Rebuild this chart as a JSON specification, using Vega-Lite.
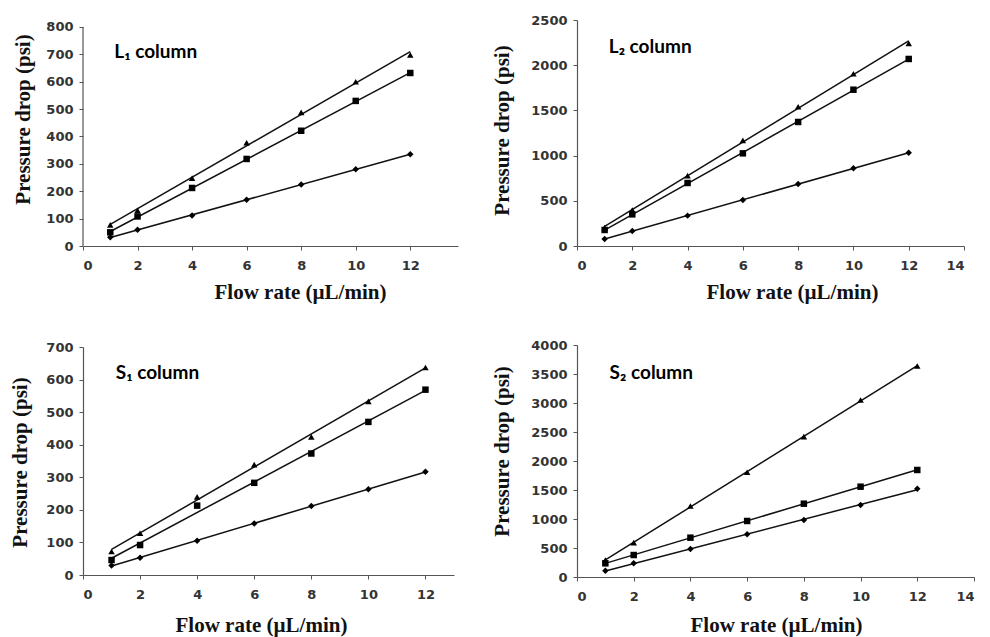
{
  "$schema": "https://vega.github.io/schema/vega-lite/v6.json",
  "background": "white",
  "padding": {"left": 8, "top": 14, "right": 5, "bottom": 5},
  "config": {
    "view": {"stroke": null},
    "axis": {
      "grid": false,
      "domainColor": "#555",
      "tickColor": "#555",
      "domainWidth": 1.2,
      "tickSize": 4,
      "labelOverlap": false,
      "labelFont": "DejaVu Sans",
      "labelFontWeight": "bold",
      "labelFontSize": 13,
      "labelColor": "#333",
      "titleFont": "Liberation Serif",
      "titleFontSize": 21,
      "titleFontWeight": "bold",
      "titleColor": "#111",
      "format": "d",
      "tickCount": 20
    },
    "axisX": {"labelPadding": 9},
    "axisY": {"labelPadding": 6}
  },
  "datasets": {
    "pts": [
      {"panel": "L1", "series": "tri", "flow": 1, "dp": 77},
      {"panel": "L1", "series": "tri", "flow": 2, "dp": 130},
      {"panel": "L1", "series": "tri", "flow": 4, "dp": 248},
      {"panel": "L1", "series": "tri", "flow": 6, "dp": 377},
      {"panel": "L1", "series": "tri", "flow": 8, "dp": 488},
      {"panel": "L1", "series": "tri", "flow": 10, "dp": 600},
      {"panel": "L1", "series": "tri", "flow": 12, "dp": 698},
      {"panel": "L1", "series": "sq", "flow": 1, "dp": 50},
      {"panel": "L1", "series": "sq", "flow": 2, "dp": 108},
      {"panel": "L1", "series": "sq", "flow": 4, "dp": 212},
      {"panel": "L1", "series": "sq", "flow": 6, "dp": 318},
      {"panel": "L1", "series": "sq", "flow": 8, "dp": 421},
      {"panel": "L1", "series": "sq", "flow": 10, "dp": 530},
      {"panel": "L1", "series": "sq", "flow": 12, "dp": 632},
      {"panel": "L1", "series": "dia", "flow": 1, "dp": 32},
      {"panel": "L1", "series": "dia", "flow": 2, "dp": 59},
      {"panel": "L1", "series": "dia", "flow": 4, "dp": 111},
      {"panel": "L1", "series": "dia", "flow": 6, "dp": 169},
      {"panel": "L1", "series": "dia", "flow": 8, "dp": 225},
      {"panel": "L1", "series": "dia", "flow": 10, "dp": 280},
      {"panel": "L1", "series": "dia", "flow": 12, "dp": 335},

      {"panel": "L2", "series": "tri", "flow": 1, "dp": 203},
      {"panel": "L2", "series": "tri", "flow": 2, "dp": 398},
      {"panel": "L2", "series": "tri", "flow": 4, "dp": 778},
      {"panel": "L2", "series": "tri", "flow": 6, "dp": 1169},
      {"panel": "L2", "series": "tri", "flow": 8, "dp": 1541},
      {"panel": "L2", "series": "tri", "flow": 10, "dp": 1906},
      {"panel": "L2", "series": "tri", "flow": 12, "dp": 2242},
      {"panel": "L2", "series": "sq", "flow": 1, "dp": 177},
      {"panel": "L2", "series": "sq", "flow": 2, "dp": 350},
      {"panel": "L2", "series": "sq", "flow": 4, "dp": 697},
      {"panel": "L2", "series": "sq", "flow": 6, "dp": 1025},
      {"panel": "L2", "series": "sq", "flow": 8, "dp": 1372},
      {"panel": "L2", "series": "sq", "flow": 10, "dp": 1729},
      {"panel": "L2", "series": "sq", "flow": 12, "dp": 2069},
      {"panel": "L2", "series": "dia", "flow": 1, "dp": 77},
      {"panel": "L2", "series": "dia", "flow": 2, "dp": 166},
      {"panel": "L2", "series": "dia", "flow": 4, "dp": 336},
      {"panel": "L2", "series": "dia", "flow": 6, "dp": 509},
      {"panel": "L2", "series": "dia", "flow": 8, "dp": 686},
      {"panel": "L2", "series": "dia", "flow": 10, "dp": 859},
      {"panel": "L2", "series": "dia", "flow": 12, "dp": 1032},

      {"panel": "S1", "series": "tri", "flow": 1, "dp": 72},
      {"panel": "S1", "series": "tri", "flow": 2, "dp": 128},
      {"panel": "S1", "series": "tri", "flow": 4, "dp": 240},
      {"panel": "S1", "series": "tri", "flow": 6, "dp": 339},
      {"panel": "S1", "series": "tri", "flow": 8, "dp": 424},
      {"panel": "S1", "series": "tri", "flow": 10, "dp": 533},
      {"panel": "S1", "series": "tri", "flow": 12, "dp": 637},
      {"panel": "S1", "series": "sq", "flow": 1, "dp": 46},
      {"panel": "S1", "series": "sq", "flow": 2, "dp": 92},
      {"panel": "S1", "series": "sq", "flow": 4, "dp": 213},
      {"panel": "S1", "series": "sq", "flow": 6, "dp": 283},
      {"panel": "S1", "series": "sq", "flow": 8, "dp": 373},
      {"panel": "S1", "series": "sq", "flow": 10, "dp": 470},
      {"panel": "S1", "series": "sq", "flow": 12, "dp": 569},
      {"panel": "S1", "series": "dia", "flow": 1, "dp": 29},
      {"panel": "S1", "series": "dia", "flow": 2, "dp": 53},
      {"panel": "S1", "series": "dia", "flow": 4, "dp": 105},
      {"panel": "S1", "series": "dia", "flow": 6, "dp": 158},
      {"panel": "S1", "series": "dia", "flow": 8, "dp": 212},
      {"panel": "S1", "series": "dia", "flow": 10, "dp": 263},
      {"panel": "S1", "series": "dia", "flow": 12, "dp": 317},

      {"panel": "S2", "series": "tri", "flow": 1, "dp": 293},
      {"panel": "S2", "series": "tri", "flow": 2, "dp": 592},
      {"panel": "S2", "series": "tri", "flow": 4, "dp": 1224},
      {"panel": "S2", "series": "tri", "flow": 6, "dp": 1805},
      {"panel": "S2", "series": "tri", "flow": 8, "dp": 2420},
      {"panel": "S2", "series": "tri", "flow": 10, "dp": 3052},
      {"panel": "S2", "series": "tri", "flow": 12, "dp": 3638},
      {"panel": "S2", "series": "sq", "flow": 1, "dp": 236},
      {"panel": "S2", "series": "sq", "flow": 2, "dp": 379},
      {"panel": "S2", "series": "sq", "flow": 4, "dp": 678},
      {"panel": "S2", "series": "sq", "flow": 6, "dp": 966},
      {"panel": "S2", "series": "sq", "flow": 8, "dp": 1264},
      {"panel": "S2", "series": "sq", "flow": 10, "dp": 1557},
      {"panel": "S2", "series": "sq", "flow": 12, "dp": 1845},
      {"panel": "S2", "series": "dia", "flow": 1, "dp": 109},
      {"panel": "S2", "series": "dia", "flow": 2, "dp": 236},
      {"panel": "S2", "series": "dia", "flow": 4, "dp": 483},
      {"panel": "S2", "series": "dia", "flow": 6, "dp": 736},
      {"panel": "S2", "series": "dia", "flow": 8, "dp": 983},
      {"panel": "S2", "series": "dia", "flow": 10, "dp": 1241},
      {"panel": "S2", "series": "dia", "flow": 12, "dp": 1523}
    ]
  },
  "hconcat": [
    {
      "spacing": 39,
      "vconcat": [
        {
          "width": 375, "height": 226,
          "layer": [
            {
              "data": {"name": "pts"},
              "transform": [{"filter": "datum.panel === 'L1'"}, {"regression": "dp", "on": "flow", "groupby": ["series"]}],
              "mark": {"type": "line", "color": "#111", "strokeWidth": 1.5},
              "encoding": {
                "x": {"field": "flow", "type": "quantitative", "scale": {"domain": [0, 13.75], "nice": false}, "axis": {"values": [0, 2, 4, 6, 8, 10, 12], "title": "Flow rate (µL/min)", "titleX": 217, "titleY": 46, "titleBaseline": "middle"}},
                "y": {"field": "dp", "type": "quantitative", "scale": {"domain": [0, 825.57], "nice": false}, "axis": {"values": [0, 100, 200, 300, 400, 500, 600, 700, 800], "domain": false, "title": "Pressure drop (psi)", "titleX": -60, "titleY": 99, "titleBaseline": "middle"}},
                "detail": {"field": "series"}
              }
            },
            {
              "data": {"values": [{"flow": 0, "dp": 0, "dp2": 800}]},
              "mark": {"type": "rule", "color": "#555", "strokeWidth": 1.2},
              "encoding": {
                "x": {"field": "flow", "type": "quantitative"},
                "y": {"field": "dp", "type": "quantitative"},
                "y2": {"field": "dp2"}
              }
            },
            {
              "data": {"name": "pts"},
              "transform": [{"filter": "datum.panel === 'L1'"}],
              "mark": {"type": "point", "filled": true, "color": "#000", "opacity": 1, "size": 42},
              "encoding": {
                "x": {"field": "flow", "type": "quantitative"},
                "y": {"field": "dp", "type": "quantitative"},
                "shape": {"field": "series", "type": "nominal", "scale": {"domain": ["tri", "sq", "dia"], "range": ["triangle-up", "square", "diamond"]}, "legend": null}
              }
            },
            {
              "data": {"values": [{"flow": 1.15, "dp": 708, "label": "L₁ column"}]},
              "mark": {"type": "text", "align": "left", "baseline": "middle", "font": "Lato", "fontWeight": "bold", "fontSize": 19, "color": "#000"},
              "encoding": {
                "x": {"field": "flow", "type": "quantitative"},
                "y": {"field": "dp", "type": "quantitative"},
                "text": {"field": "label"}
              }
            }
          ]
        },
        {
          "width": 371, "height": 228,
          "layer": [
            {
              "data": {"name": "pts"},
              "transform": [{"filter": "datum.panel === 'S1'"}, {"regression": "dp", "on": "flow", "groupby": ["series"]}],
              "mark": {"type": "line", "color": "#111", "strokeWidth": 1.5},
              "encoding": {
                "x": {"field": "flow", "type": "quantitative", "scale": {"domain": [0, 13], "nice": false}, "axis": {"values": [0, 2, 4, 6, 8, 10, 12], "title": "Flow rate (µL/min)", "titleX": 178, "titleY": 50, "titleBaseline": "middle"}},
                "y": {"field": "dp", "type": "quantitative", "scale": {"domain": [0, 700], "nice": false}, "axis": {"values": [0, 100, 200, 300, 400, 500, 600, 700], "title": "Pressure drop (psi)", "titleX": -63, "titleY": 115, "titleBaseline": "middle"}},
                "detail": {"field": "series"}
              }
            },
            {
              "data": {"name": "pts"},
              "transform": [{"filter": "datum.panel === 'S1'"}],
              "mark": {"type": "point", "filled": true, "color": "#000", "opacity": 1, "size": 42},
              "encoding": {
                "x": {"field": "flow", "type": "quantitative"},
                "y": {"field": "dp", "type": "quantitative"},
                "shape": {"field": "series", "type": "nominal", "scale": {"domain": ["tri", "sq", "dia"], "range": ["triangle-up", "square", "diamond"]}, "legend": null}
              }
            },
            {
              "data": {"values": [{"flow": 1.15, "dp": 620, "label": "S₁ column"}]},
              "mark": {"type": "text", "align": "left", "baseline": "middle", "font": "Lato", "fontWeight": "bold", "fontSize": 19, "color": "#000"},
              "encoding": {
                "x": {"field": "flow", "type": "quantitative"},
                "y": {"field": "dp", "type": "quantitative"},
                "text": {"field": "label"}
              }
            }
          ]
        }
      ]
    },
    {
      "spacing": 37,
      "vconcat": [
        {
          "width": 387, "height": 226,
          "layer": [
            {
              "data": {"name": "pts"},
              "transform": [{"filter": "datum.panel === 'L2'"}, {"regression": "dp", "on": "flow", "groupby": ["series"]}],
              "mark": {"type": "line", "color": "#111", "strokeWidth": 1.5},
              "encoding": {
                "x": {"field": "flow", "type": "quantitative", "scale": {"domain": [0, 14], "nice": false}, "axis": {"values": [0, 2, 4, 6, 8, 10, 12, 14], "title": "Flow rate (µL/min)", "titleX": 215, "titleY": 46, "titleBaseline": "middle"}},
                "y": {"field": "dp", "type": "quantitative", "scale": {"domain": [0, 2500], "nice": false}, "axis": {"values": [0, 500, 1000, 1500, 2000, 2500], "title": "Pressure drop (psi)", "titleX": -75, "titleY": 110, "titleBaseline": "middle"}},
                "detail": {"field": "series"}
              }
            },
            {
              "data": {"name": "pts"},
              "transform": [{"filter": "datum.panel === 'L2'"}],
              "mark": {"type": "point", "filled": true, "color": "#000", "opacity": 1, "size": 42},
              "encoding": {
                "x": {"field": "flow", "type": "quantitative"},
                "y": {"field": "dp", "type": "quantitative"},
                "shape": {"field": "series", "type": "nominal", "scale": {"domain": ["tri", "sq", "dia"], "range": ["triangle-up", "square", "diamond"]}, "legend": null}
              }
            },
            {
              "data": {"values": [{"flow": 1.15, "dp": 2201, "label": "L₂ column"}]},
              "mark": {"type": "text", "align": "left", "baseline": "middle", "font": "Lato", "fontWeight": "bold", "fontSize": 19, "color": "#000"},
              "encoding": {
                "x": {"field": "flow", "type": "quantitative"},
                "y": {"field": "dp", "type": "quantitative"},
                "text": {"field": "label"}
              }
            }
          ]
        },
        {
          "width": 397, "height": 232,
          "layer": [
            {
              "data": {"name": "pts"},
              "transform": [{"filter": "datum.panel === 'S2'"}, {"regression": "dp", "on": "flow", "groupby": ["series"]}],
              "mark": {"type": "line", "color": "#111", "strokeWidth": 1.5},
              "encoding": {
                "x": {"field": "flow", "type": "quantitative", "scale": {"domain": [0, 14], "nice": false}, "axis": {"values": [0, 2, 4, 6, 8, 10, 12, 14], "title": "Flow rate (µL/min)", "titleX": 199, "titleY": 48, "titleBaseline": "middle"}},
                "y": {"field": "dp", "type": "quantitative", "scale": {"domain": [0, 4000], "nice": false}, "axis": {"values": [0, 500, 1000, 1500, 2000, 2500, 3000, 3500, 4000], "title": "Pressure drop (psi)", "titleX": -75, "titleY": 106, "titleBaseline": "middle"}},
                "detail": {"field": "series"}
              }
            },
            {
              "data": {"name": "pts"},
              "transform": [{"filter": "datum.panel === 'S2'"}],
              "mark": {"type": "point", "filled": true, "color": "#000", "opacity": 1, "size": 42},
              "encoding": {
                "x": {"field": "flow", "type": "quantitative"},
                "y": {"field": "dp", "type": "quantitative"},
                "shape": {"field": "series", "type": "nominal", "scale": {"domain": ["tri", "sq", "dia"], "range": ["triangle-up", "square", "diamond"]}, "legend": null}
              }
            },
            {
              "data": {"values": [{"flow": 1.15, "dp": 3517, "label": "S₂ column"}]},
              "mark": {"type": "text", "align": "left", "baseline": "middle", "font": "Lato", "fontWeight": "bold", "fontSize": 19, "color": "#000"},
              "encoding": {
                "x": {"field": "flow", "type": "quantitative"},
                "y": {"field": "dp", "type": "quantitative"},
                "text": {"field": "label"}
              }
            }
          ]
        }
      ]
    }
  ],
  "spacing": 32
}
